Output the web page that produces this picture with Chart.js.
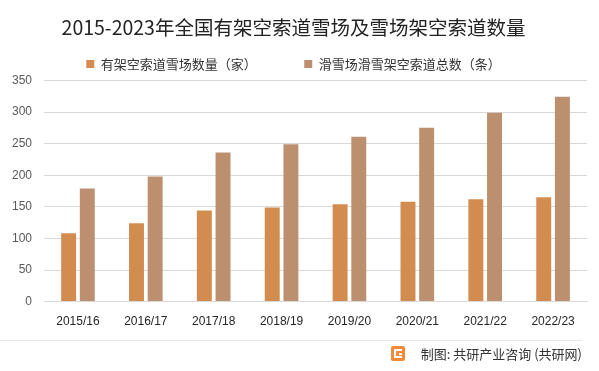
<!DOCTYPE html>
<html>
<head>
<meta charset="utf-8">
<script src="https://cdn.jsdelivr.net/npm/chart.js@4/dist/chart.umd.min.js"></script>
<style>
  html, body { margin: 0; padding: 0; background: #fff; }
  #wrap { position: relative; width: 599px; height: 371px; }
</style>
</head>
<body>
<div id="wrap"><canvas id="ski_chart" width="599" height="371"></canvas></div>
<script>
const seasons = ['2015/16', '2016/17', '2017/18', '2018/19', '2019/20', '2020/21', '2021/22', '2022/23'];
const resorts = [108, 124, 144, 149, 154, 158, 162, 165];
const lifts = [179, 198, 236, 249, 261, 275, 299, 324];
const yTicks = [0, 50, 100, 150, 200, 250, 300, 350];

const FONT = '"Noto Sans CJK SC", "Noto Sans", sans-serif';
const NUM_FONT = '"Liberation Sans", Arial, sans-serif';

// footer line + source note
const footer = {
  id: 'footer',
  afterDraw(chart) {
    const c = chart.ctx;
    c.save();
    c.strokeStyle = '#e8e8e8';
    c.lineWidth = 1;
    c.beginPath();
    c.moveTo(0, 340.5);
    c.lineTo(582, 340.5);
    c.stroke();
    // small logo
    c.fillStyle = '#f28a3a';
    c.beginPath();
    c.roundRect(391, 346, 14, 15, 2);
    c.fill();
    c.fillStyle = '#fff';
    c.fillRect(394, 349, 8, 2);
    c.fillRect(394, 349, 2, 9);
    c.fillRect(394, 356, 8, 2);
    c.fillRect(399, 353, 3, 2);
    c.fillStyle = '#333';
    c.font = '13px ' + FONT;
    c.textAlign = 'right';
    c.textBaseline = 'middle';
    c.fillText('制图: 共研产业咨询 (共研网)', 582, 354);
    c.restore();
  }
};

const ctx = document.getElementById('ski_chart');

new Chart(ctx, {
  type: 'bar',
  data: {
    labels: seasons,
    datasets: [{
      label: '有架空索道雪场数量（家）',
      data: resorts,
      backgroundColor: '#d38c50',
      categoryPercentage: 0.55,
      barPercentage: 0.8
    }, {
      label: '滑雪场滑雪架空索道总数（条）',
      data: lifts,
      backgroundColor: '#bc8f6e',
      categoryPercentage: 0.55,
      barPercentage: 0.8
    }]
  },
  options: {
    responsive: false,
    animation: false,
    layout: {
      padding: { left: 0, right: 12, top: 8, bottom: 37 }
    },
    plugins: {
      title: {
        display: true,
        text: '2015-2023年全国有架空索道雪场及雪场架空索道数量',
        color: '#222',
        font: { family: FONT, size: 19.5, weight: 'normal' },
        padding: { top: 8, bottom: 3 }
      },
      legend: {
        labels: {
          boxWidth: 8,
          boxHeight: 8,
          color: '#333',
          padding: 15,
          font: { family: FONT, size: 13 },
          generateLabels(chart) {
            const items = Chart.defaults.plugins.legend.labels.generateLabels(chart);
            // extra gap after the first item
            items[0].text += '\u3000\u3000\u3000';
            return items;
          }
        }
      },
      tooltip: { enabled: false }
    },
    scales: {
      x: {
        grid: { display: false },
        border: { display: true, color: '#d9d9d9' },
        ticks: { color: '#262626', font: { family: NUM_FONT, size: 12 }, padding: 5 }
      },
      y: {
        min: 0,
        max: 350,
        afterBuildTicks(axis) {
          axis.ticks = yTicks.map(v => ({ value: v }));
        },
        grid: { color: '#d9d9d9', drawTicks: false },
        border: { display: false },
        ticks: { color: '#595959', font: { family: NUM_FONT, size: 12 }, padding: 12 }
      }
    }
  },
  plugins: [footer]
});
</script>
</body>
</html>
